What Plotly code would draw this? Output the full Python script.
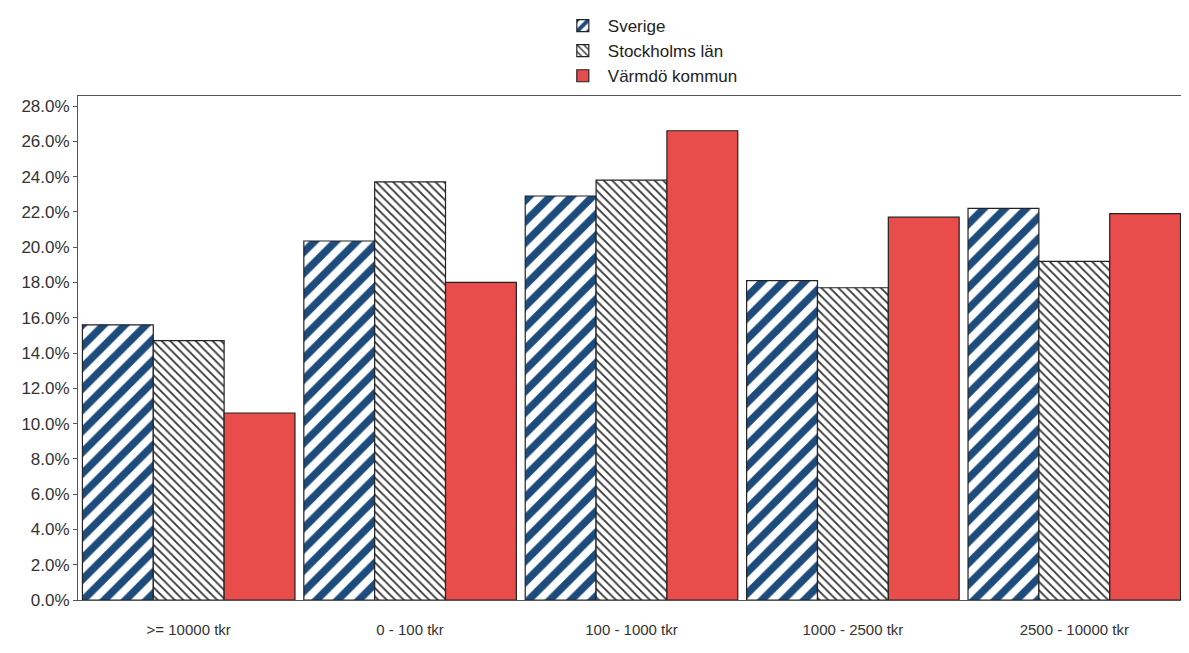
import plotly.graph_objects as go

categories = [">= 10000 tkr", "0 - 100 tkr", "100 - 1000 tkr", "1000 - 2500 tkr", "2500 - 10000 tkr"]
sverige = [15.6, 20.35, 22.9, 18.1, 22.2]
stockholm = [14.7, 23.7, 23.8, 17.7, 19.2]
varmdo = [10.6, 18.0, 26.6, 21.7, 21.9]
tick_vals = [i * 2 for i in range(15)]
tick_text = [f"{v:.1f}%" for v in tick_vals]

fig = go.Figure()
fig.add_trace(go.Bar(
    name="Sverige", x=categories, y=sverige,
    marker=dict(color="white", line=dict(color="#222222", width=1.2),
                pattern=dict(shape="/", fgcolor="#1d4c7c", bgcolor="white", fgopacity=1,
                             size=15, solidity=0.5)),
))
fig.add_trace(go.Bar(
    name="Stockholms län", x=categories, y=stockholm,
    marker=dict(color="white", line=dict(color="#222222", width=1.2),
                pattern=dict(shape="\\", fgcolor="#333333", bgcolor="white", fgopacity=1,
                             size=6, solidity=0.3)),
))
fig.add_trace(go.Bar(
    name="Värmdö kommun", x=categories, y=varmdo,
    marker=dict(color="#e84c4b", line=dict(color="#222222", width=1.2)),
))

fig.update_layout(
    width=1181, height=645,
    barmode="group", bargap=0.04, bargroupgap=0,
    paper_bgcolor="white", plot_bgcolor="white",
    margin=dict(l=70, r=4, t=88, b=53, autoexpand=False),
    font=dict(family="Liberation Sans, Arial, sans-serif", color="#333333"),
    legend=dict(orientation="v", x=0.517, xanchor="center", y=1.014, yanchor="top",
                yref="container", itemwidth=40,
                font=dict(size=17, color="#222222"), tracegroupgap=0,
                bgcolor="rgba(0,0,0,0)"),
    xaxis=dict(showline=True, linecolor="#555555", mirror=True, ticks="outside",
               ticklen=16, tickcolor="rgba(0,0,0,0)", automargin=False,
               tickfont=dict(size=15, color="#333333")),
    yaxis=dict(range=[0, 28.57], tickvals=tick_vals, ticktext=tick_text, showgrid=False,
               showline=True, linecolor="#555555", mirror=True, ticks="outside", ticklen=4,
               tickcolor="#555555", tickfont=dict(size=17, color="#333333"), zeroline=False,
               automargin=False),
)
fig.write_html("out.html")
